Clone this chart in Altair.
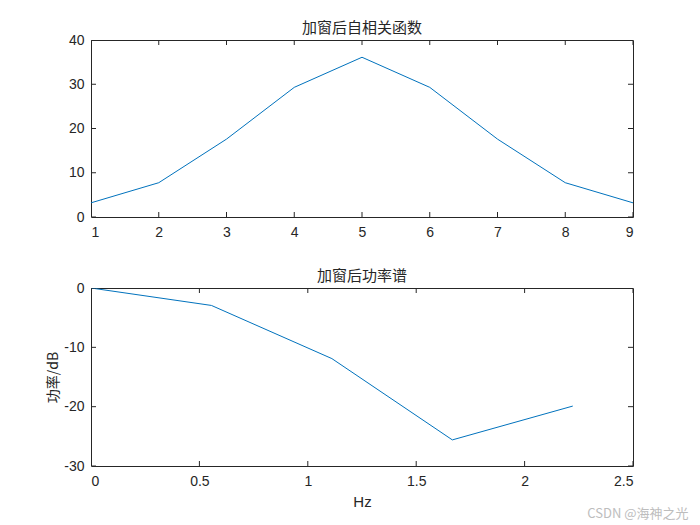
import altair as alt
import pandas as pd

# Data
lag = [1, 2, 3, 4, 5, 6, 7, 8, 9]
acf = [3.2, 7.75, 17.6, 29.3, 36.1, 29.3, 17.6, 7.75, 3.2]

freq = [0, 0.5556, 1.1111, 1.6667, 2.2222]
power_db = [0, -2.94, -11.9, -25.6, -19.9]

top_xticks = [1, 2, 3, 4, 5, 6, 7, 8, 9]
top_yticks = [0, 10, 20, 30, 40]
bot_xticks = [0, 0.5, 1, 1.5, 2, 2.5]
bot_yticks = [-30, -20, -10, 0]

LINE = "#0072BD"
INK = "#262626"
W, H1, H2 = 542, 177, 178
CJK = "Noto Sans CJK SC"
LAT = "Liberation Sans"

df1 = pd.DataFrame({"x": lag, "y": acf})
df2 = pd.DataFrame({"x": freq, "y": power_db})


def panel(df, xdom, ydom, xt, yt, title, h, xtitle=None, ytitle=None):
    xs = alt.Scale(domain=xdom, nice=False, zero=False)
    ys = alt.Scale(domain=ydom, nice=False, zero=False)
    xax = alt.Axis(values=xt, labelExpr="toString(datum.value)", title=xtitle,
                   labelPadding=8, titlePadding=6, titleFont=LAT, titleFontSize=15,
                   titleFontWeight="normal", titleColor=INK)
    yax = alt.Axis(values=yt, labelExpr="toString(datum.value)", title=ytitle,
                   labelPadding=7, titlePadding=3, titleFont=CJK, titleFontSize=14,
                   titleFontWeight="normal", titleColor=INK)
    line = alt.Chart(df).mark_line(color=LINE, strokeWidth=1, clip=True).encode(
        x=alt.X("x:Q", scale=xs, axis=xax),
        y=alt.Y("y:Q", scale=ys, axis=yax),
    )
    xtdf = pd.DataFrame({"t": xt})
    ytdf = pd.DataFrame({"t": yt})
    tk = dict(color=INK, size=10, thickness=1, clip=True, opacity=1)
    xt_bot = alt.Chart(xtdf).mark_tick(**tk).encode(
        x=alt.X("t:Q", scale=xs, axis=xax), y=alt.value(h))
    xt_top = alt.Chart(xtdf).mark_tick(**tk).encode(
        x=alt.X("t:Q", scale=xs, axis=xax), y=alt.value(0))
    yt_l = alt.Chart(ytdf).mark_tick(**tk).encode(
        y=alt.Y("t:Q", scale=ys, axis=yax), x=alt.value(0))
    yt_r = alt.Chart(ytdf).mark_tick(**tk).encode(
        y=alt.Y("t:Q", scale=ys, axis=yax), x=alt.value(W))
    return alt.layer(line, xt_bot, xt_top, yt_l, yt_r).properties(
        width=W, height=h,
        title=alt.TitleParams(title, font=CJK, fontSize=15, fontWeight="normal",
                              color=INK, offset=-3),
    )


top = panel(df1, [1, 9], [0, 40], top_xticks, top_yticks, "加窗后自相关函数", H1)
bot = panel(df2, [0, 2.5], [-30, 0], bot_xticks, bot_yticks, "加窗后功率谱", H2,
            xtitle="Hz", ytitle="功率/dB")

chart = alt.vconcat(top, bot, spacing=71, bounds="flush").properties(
    padding={"left": 38, "top": 12, "right": 2, "bottom": 2},
    title=alt.TitleParams("CSDN @海神之光", orient="bottom", anchor="end",
                          font=CJK, fontSize=13, fontWeight="normal",
                          color="#bdbdbd", dx=55, dy=-6, offset=4),
).configure(background="white").configure_view(
    stroke=INK, strokeWidth=1
).configure_axis(
    domain=False, ticks=False, grid=False,
    labelFont=LAT, labelFontSize=14, labelColor=INK,
)

chart.save("out.html", embed_options={"renderer": "svg", "actions": False})
